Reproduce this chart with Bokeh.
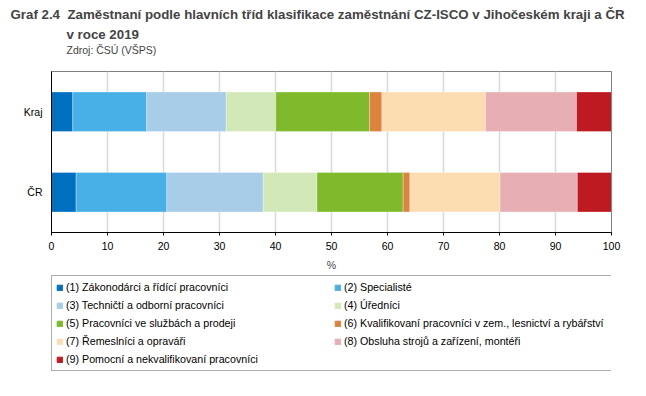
from bokeh.plotting import figure
from bokeh.models import (FactorRange, Range1d, ColumnDataSource, Legend, LegendItem,
                          Title, FixedTicker)
from bokeh.layouts import column
from bokeh.embed import file_html
from bokeh.resources import INLINE

categories = ["ČR", "Kraj"]
groups = ["g1", "g2", "g3", "g4", "g5", "g6", "g7", "g8", "g9"]
labels = [
    "(1) Zákonodárci a řídící pracovníci",
    "(2) Specialisté",
    "(3) Techničtí a odborní pracovníci",
    "(4) Úředníci",
    "(5) Pracovníci ve službách a prodeji",
    "(6) Kvalifikovaní pracovníci v zem., lesnictví a rybářství",
    "(7) Řemeslníci a opraváři",
    "(8) Obsluha strojů a zařízení, montéři",
    "(9) Pomocní a nekvalifikovaní pracovníci",
]
kraj = [3.8, 13.2, 14.2, 8.85, 16.75, 2.2, 18.5, 16.25, 6.25]
cr = [4.4, 16.2, 17.2, 9.6, 15.4, 1.2, 16.1, 13.8, 6.1]
colors = ["#0070C0", "#48AFE7", "#A7CDE8", "#D3E8B9", "#7FBA2C",
          "#DD833D", "#FCDDB2", "#E7AFB3", "#BE1A22"]
x_ticks = [0, 10, 20, 30, 40, 50, 60, 70, 80, 90, 100]
title_num = "Graf 2.4"
title_main = "Zaměstnaní podle hlavních tříd klasifikace zaměstnání CZ-ISCO v Jihočeském kraji a ČR"
title_line2 = "v roce 2019"
source_text = "Zdroj: ČSÚ (VŠPS)"

data = {"cat": categories}
for i, g in enumerate(groups):
    data[g] = [cr[i], kraj[i]]
source = ColumnDataSource(data)

FONT = "Liberation Sans"

p = figure(width=630, height=273, y_range=FactorRange(*categories),
           x_range=Range1d(0, 100), output_backend="svg", toolbar_location=None,
           min_border_left=51, min_border_right=19, min_border_top=71,
           min_border_bottom=39)

renderers = p.hbar_stack(groups, y="cat", height=0.49, color=colors, source=source,
                         line_color="white", line_width=0.6, line_alpha=0.5)

p.outline_line_color = "#7F7F7F"
p.outline_line_width = 1

p.xgrid.grid_line_color = "#D9D9D9"
p.xgrid.grid_line_width = 1.5
p.ygrid.grid_line_color = None
p.xaxis.ticker = FixedTicker(ticks=x_ticks)
p.xaxis.axis_line_color = "black"
p.xaxis.major_tick_line_color = "black"
p.xaxis.major_tick_out = 3
p.xaxis.major_tick_in = 0
p.xaxis.minor_tick_line_color = None
p.xaxis.major_label_text_font = FONT
p.xaxis.major_label_text_font_size = "10.5px"
p.xaxis.major_label_text_color = "black"
p.xaxis.major_label_standoff = 6
p.xaxis.axis_label = "%"
p.xaxis.axis_label_text_font = FONT
p.xaxis.axis_label_text_font_size = "10.5px"
p.xaxis.axis_label_text_font_style = "normal"
p.xaxis.axis_label_standoff = 6

p.yaxis.axis_line_color = "black"
p.yaxis.major_tick_line_color = None
p.yaxis.major_tick_out = 0
p.yaxis.major_tick_in = 0
p.yaxis.major_label_text_font = FONT
p.yaxis.major_label_text_font_size = "10.5px"
p.yaxis.major_label_text_color = "black"
p.yaxis.major_label_standoff = 9

NB = "\u00a0"
# spacer between source line and plot frame
p.add_layout(Title(text=NB, standoff=2, text_font=FONT, text_font_size="10.5px"), "above")
p.add_layout(Title(text=source_text, align="left", offset=15, standoff=0,
                   text_font=FONT, text_font_size="10.5px",
                   text_font_style="normal"), "above")
p.add_layout(Title(text=title_line2, align="left", offset=15, standoff=0,
                   text_font=FONT, text_font_size="13.3px",
                   text_font_style="bold"), "above")
p.add_layout(Title(text=title_num + NB * 2 + title_main, align="left", offset=-41,
                   standoff=6, text_font=FONT, text_font_size="13.3px",
                   text_font_style="bold"), "above")

# legend panel
q = figure(width=630, height=100, x_range=Range1d(0, 1), y_range=Range1d(0, 1),
           output_backend="svg", toolbar_location=None,
           x_axis_location=None, y_axis_location=None,
           min_border_left=0, min_border_right=0, min_border_top=0, min_border_bottom=0)
q.outline_line_color = None
q.grid.grid_line_color = None
proxy_src = ColumnDataSource({"y": [-5.0], "r": [0.5]})
proxies = [q.hbar(y="y", right="r", height=0.5, color=c, source=proxy_src) for c in colors]

items = []
order = [0, 2, 4, 6, 8, 1, 3, 5, 7]
for i in order:
    items.append(LegendItem(label=labels[i], renderers=[proxies[i]]))
legend = Legend(items=items, ncols=2, location=(0, 2))
legend.label_text_font = FONT
legend.label_text_font_size = "10.7px"
legend.label_text_color = "black"
legend.glyph_width = 7
legend.glyph_height = 7
legend.label_standoff = 3
legend.label_height = 14
legend.spacing = 4
legend.padding = 4
legend.margin = 0
legend.label_width = 264
legend.border_line_color = "#595959"
legend.border_line_width = 1
legend.background_fill_alpha = 1
q.add_layout(legend, "center")

layout = column(p, q, spacing=0)
open("out.html", "w").write(file_html(layout, INLINE))
